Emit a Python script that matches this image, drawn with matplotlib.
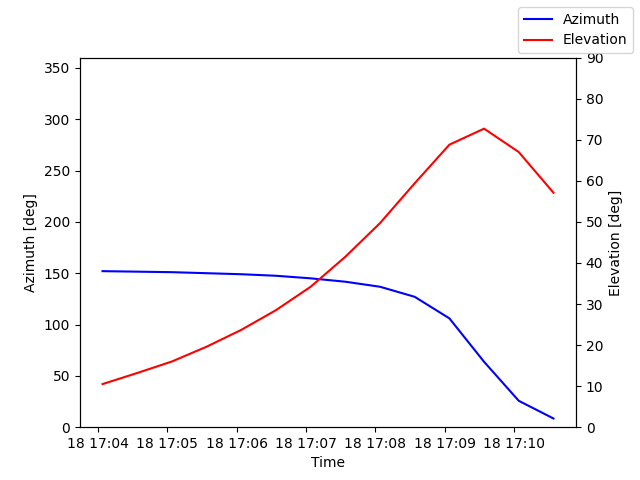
import numpy as np
import pandas as pd
import matplotlib
matplotlib.use("Agg")
from matplotlib import pyplot as plt
import matplotlib.dates as mdates

# pass samples, every 30 s
times = pd.date_range("2023-05-18 17:04:04", periods=14, freq="30s")
azimuth = [152, 151.5, 151, 150, 149, 147.5, 145, 141.7, 136.8, 127, 106, 63.7, 25.7, 8.5]
elevation = [10.5, 13.2, 16.0, 19.6, 23.7, 28.5, 34.2, 41.5, 49.7, 59.4, 68.8, 72.7, 67.0, 57.1]

fig, ax = plt.subplots(figsize=(6.4, 4.8), dpi=100)
ax.plot(times, azimuth, color="blue", label="Azimuth")
ax.set_ylim(0, 360)
ax.set_ylabel("Azimuth [deg]")
ax.set_xlabel("Time")
ax.xaxis.set_major_locator(mdates.MinuteLocator())
ax.xaxis.set_major_formatter(mdates.DateFormatter("%d %H:%M"))

ax2 = ax.twinx()
ax2.plot(times, elevation, color="red", label="Elevation")
ax2.set_ylim(0, 90)
ax2.set_ylabel("Elevation [deg]")

fig.legend()
fig.savefig("out.png")
